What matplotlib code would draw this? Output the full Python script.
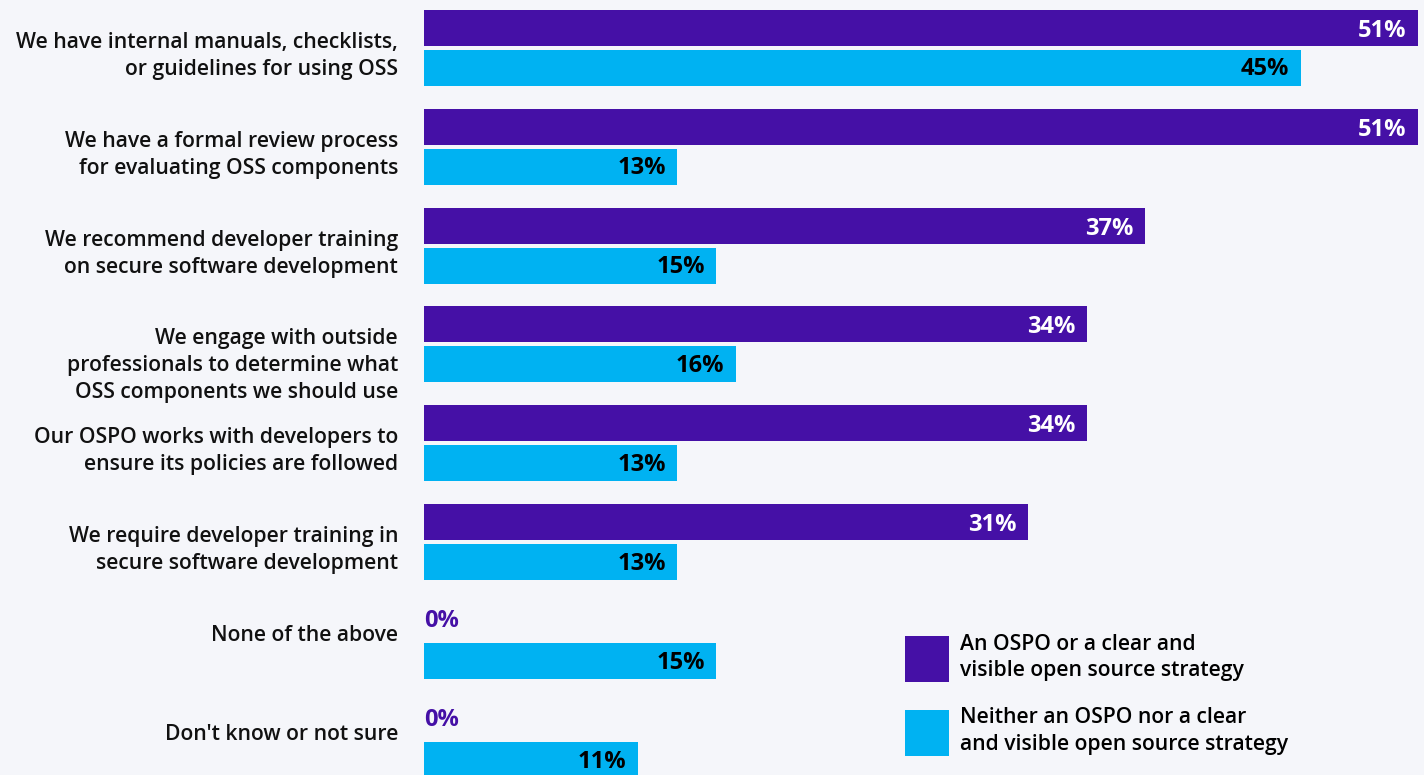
import numpy as np
import matplotlib.pyplot as plt
from matplotlib.patches import Patch

plt.rcParams['font.family'] = ['Open Sans', 'DejaVu Sans']

categories = [
    "We have internal manuals, checklists,\nor guidelines for using OSS",
    "We have a formal review process\nfor evaluating OSS components",
    "We recommend developer training\non secure software development",
    "We engage with outside\nprofessionals to determine what\nOSS components we should use",
    "Our OSPO works with developers to\nensure its policies are followed",
    "We require developer training in\nsecure software development",
    "None of the above",
    "Don't know or not sure",
]
ospo = [51, 51, 37, 34, 34, 31, 0, 0]
no_ospo = [45, 13, 15, 16, 13, 13, 15, 11]
series_names = [
    "An OSPO or a clear and\nvisible open source strategy",
    "Neither an OSPO nor a clear\nand visible open source strategy",
]

PURPLE = "#4510a6"
CYAN = "#00b2f2"
BG = "#f5f6fa"

fig = plt.figure(figsize=(14.24, 7.75), dpi=100, facecolor=BG)
W, H = 1424, 775
ax = fig.add_axes([424 / W, 0, (1418 - 424) / W, 1])
ax.set_facecolor(BG)

y = np.arange(len(categories))
h = 0.364
off = 0.202
ax.barh(y - off, ospo, height=h, color=PURPLE)
ax.barh(y + off, no_ospo, height=h, color=CYAN)

ax.set_xlim(0, 51)
ax.set_ylim(7.353, -0.483)
ax.axis("off")

pad = 0.6
for i, v in enumerate(ospo):
    if v > 0:
        ax.text(v - pad, i - off + 0.03, f"{v}%", ha="right", va="center",
                color="white", fontsize=17, fontweight="bold")
    else:
        ax.text(0, i - off, f"{v}%", ha="left", va="center",
                color=PURPLE, fontsize=17, fontweight="bold")
for i, v in enumerate(no_ospo):
    ax.text(v - pad, i + off + 0.015, f"{v}%", ha="right", va="center",
            color="black", fontsize=17, fontweight="bold")

# category labels, one text per line so the spacing matches
for i, c in enumerate(categories):
    for k, line in enumerate(c.split("\n")):
        ax.text(-1.33, i + k * 0.273, line, ha="right", va="baseline",
                color="#111111", fontsize=15.2, fontweight="semibold")

handles = [Patch(facecolor=PURPLE), Patch(facecolor=CYAN)]
leg = fig.legend(handles, series_names, loc="upper left",
                 bbox_to_anchor=(894 / W, 1 - 623 / H), frameon=False,
                 fontsize=15.2, handlelength=2.1, handleheight=2.98,
                 handletextpad=0.52, labelspacing=1.2, borderpad=0)
for t in leg.get_texts():
    t.set_fontweight("semibold")
    t.set_linespacing(1.33)

fig.savefig("out.png", dpi=100, facecolor=BG)
